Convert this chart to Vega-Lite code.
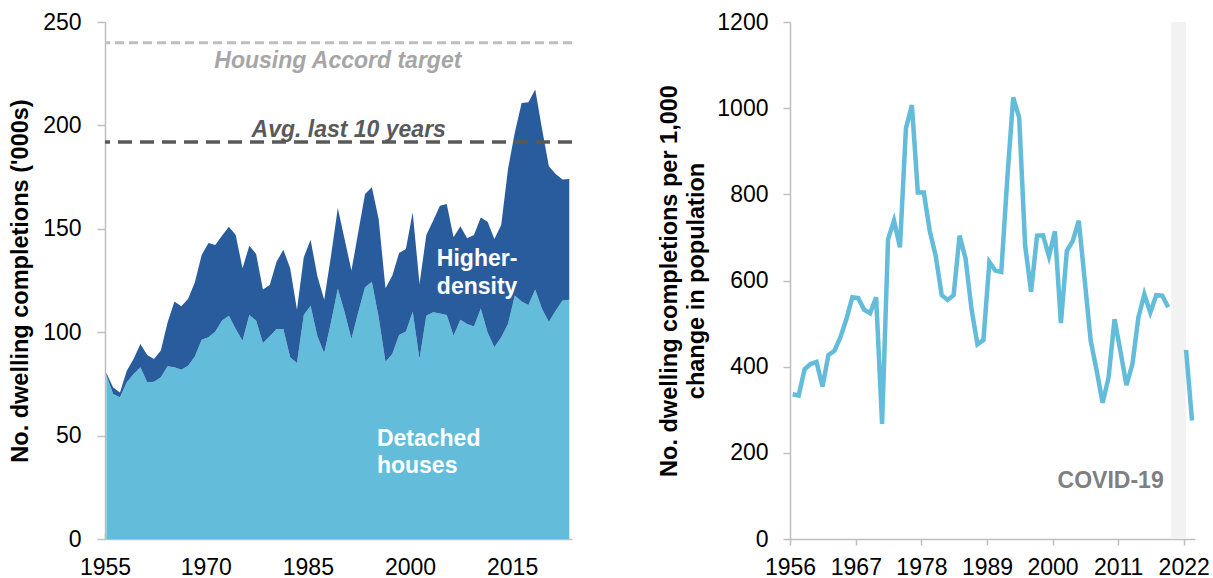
{
  "$schema": "https://vega.github.io/schema/vega-lite/v6.json",
  "padding": {"left": 8, "top": 11, "right": 5, "bottom": 0},
  "autosize": {"type": "pad"},
  "spacing": 83,
  "background": "white",
  "config": {
    "view": {"stroke": null},
    "font": "Liberation Sans",
    "axis": {
      "grid": false,
      "domainColor": "#bfbfbf",
      "domainWidth": 1.5,
      "tickColor": "#bfbfbf",
      "tickWidth": 1.5,
      "labelFont": "Liberation Sans",
      "labelFontSize": 23,
      "labelColor": "#000000",
      "labelOverlap": false,
      "labelFlush": false,
      "titleFont": "Liberation Sans",
      "titleFontSize": 23.5,
      "titleFontWeight": "bold",
      "titleColor": "#000000"
    }
  },
  "datasets": {
    "completions": [
      {"year": 1955, "type": "Detached houses", "value": 79.3}, {"year": 1955, "type": "Higher-density", "value": 1.0},
      {"year": 1956, "type": "Detached houses", "value": 70.1}, {"year": 1956, "type": "Higher-density", "value": 3.2},
      {"year": 1957, "type": "Detached houses", "value": 68.5}, {"year": 1957, "type": "Higher-density", "value": 2.4},
      {"year": 1958, "type": "Detached houses", "value": 75.8}, {"year": 1958, "type": "Higher-density", "value": 5.6},
      {"year": 1959, "type": "Detached houses", "value": 79.8}, {"year": 1959, "type": "Higher-density", "value": 7.2},
      {"year": 1960, "type": "Detached houses", "value": 83.0}, {"year": 1960, "type": "Higher-density", "value": 11.3},
      {"year": 1961, "type": "Detached houses", "value": 75.8}, {"year": 1961, "type": "Higher-density", "value": 13.2},
      {"year": 1962, "type": "Detached houses", "value": 76.1}, {"year": 1962, "type": "Higher-density", "value": 10.9},
      {"year": 1963, "type": "Detached houses", "value": 78.2}, {"year": 1963, "type": "Higher-density", "value": 12.9},
      {"year": 1964, "type": "Detached houses", "value": 83.5}, {"year": 1964, "type": "Higher-density", "value": 21.3},
      {"year": 1965, "type": "Detached houses", "value": 83.0}, {"year": 1965, "type": "Higher-density", "value": 31.8},
      {"year": 1966, "type": "Detached houses", "value": 81.9}, {"year": 1966, "type": "Higher-density", "value": 30.6},
      {"year": 1967, "type": "Detached houses", "value": 83.8}, {"year": 1967, "type": "Higher-density", "value": 32.3},
      {"year": 1968, "type": "Detached houses", "value": 88.3}, {"year": 1968, "type": "Higher-density", "value": 35.8},
      {"year": 1969, "type": "Detached houses", "value": 96.4}, {"year": 1969, "type": "Higher-density", "value": 40.9},
      {"year": 1970, "type": "Detached houses", "value": 97.5}, {"year": 1970, "type": "Higher-density", "value": 45.6},
      {"year": 1971, "type": "Detached houses", "value": 100.3}, {"year": 1971, "type": "Higher-density", "value": 41.9},
      {"year": 1972, "type": "Detached houses", "value": 105.6}, {"year": 1972, "type": "Higher-density", "value": 41.1},
      {"year": 1973, "type": "Detached houses", "value": 108.0}, {"year": 1973, "type": "Higher-density", "value": 43.0},
      {"year": 1974, "type": "Detached houses", "value": 101.5}, {"year": 1974, "type": "Higher-density", "value": 45.5},
      {"year": 1975, "type": "Detached houses", "value": 95.9}, {"year": 1975, "type": "Higher-density", "value": 35.0},
      {"year": 1976, "type": "Detached houses", "value": 108.3}, {"year": 1976, "type": "Higher-density", "value": 33.5},
      {"year": 1977, "type": "Detached houses", "value": 105.6}, {"year": 1977, "type": "Higher-density", "value": 32.2},
      {"year": 1978, "type": "Detached houses", "value": 94.8}, {"year": 1978, "type": "Higher-density", "value": 25.8},
      {"year": 1979, "type": "Detached houses", "value": 98.0}, {"year": 1979, "type": "Higher-density", "value": 24.8},
      {"year": 1980, "type": "Detached houses", "value": 101.5}, {"year": 1980, "type": "Higher-density", "value": 32.6},
      {"year": 1981, "type": "Detached houses", "value": 101.5}, {"year": 1981, "type": "Higher-density", "value": 38.4},
      {"year": 1982, "type": "Detached houses", "value": 87.9}, {"year": 1982, "type": "Higher-density", "value": 43.0},
      {"year": 1983, "type": "Detached houses", "value": 85.1}, {"year": 1983, "type": "Higher-density", "value": 25.8},
      {"year": 1984, "type": "Detached houses", "value": 108.3}, {"year": 1984, "type": "Higher-density", "value": 27.9},
      {"year": 1985, "type": "Detached houses", "value": 112.8}, {"year": 1985, "type": "Higher-density", "value": 31.9},
      {"year": 1986, "type": "Detached houses", "value": 98.0}, {"year": 1986, "type": "Higher-density", "value": 29.0},
      {"year": 1987, "type": "Detached houses", "value": 89.9}, {"year": 1987, "type": "Higher-density", "value": 25.8},
      {"year": 1988, "type": "Detached houses", "value": 104.8}, {"year": 1988, "type": "Higher-density", "value": 32.2},
      {"year": 1989, "type": "Detached houses", "value": 121.0}, {"year": 1989, "type": "Higher-density", "value": 39.0},
      {"year": 1990, "type": "Detached houses", "value": 109.6}, {"year": 1990, "type": "Higher-density", "value": 35.4},
      {"year": 1991, "type": "Detached houses", "value": 96.7}, {"year": 1991, "type": "Higher-density", "value": 33.1},
      {"year": 1992, "type": "Detached houses", "value": 109.6}, {"year": 1992, "type": "Higher-density", "value": 38.7},
      {"year": 1993, "type": "Detached houses", "value": 121.7}, {"year": 1993, "type": "Higher-density", "value": 45.1},
      {"year": 1994, "type": "Detached houses", "value": 124.4}, {"year": 1994, "type": "Higher-density", "value": 45.7},
      {"year": 1995, "type": "Detached houses", "value": 107.2}, {"year": 1995, "type": "Higher-density", "value": 47.5},
      {"year": 1996, "type": "Detached houses", "value": 85.7}, {"year": 1996, "type": "Higher-density", "value": 35.5},
      {"year": 1997, "type": "Detached houses", "value": 89.5}, {"year": 1997, "type": "Higher-density", "value": 37.8},
      {"year": 1998, "type": "Detached houses", "value": 98.6}, {"year": 1998, "type": "Higher-density", "value": 39.7},
      {"year": 1999, "type": "Detached houses", "value": 100.3}, {"year": 1999, "type": "Higher-density", "value": 39.9},
      {"year": 2000, "type": "Detached houses", "value": 109.9}, {"year": 2000, "type": "Higher-density", "value": 48.1},
      {"year": 2001, "type": "Detached houses", "value": 87.0}, {"year": 2001, "type": "Higher-density", "value": 36.3},
      {"year": 2002, "type": "Detached houses", "value": 108.0}, {"year": 2002, "type": "Higher-density", "value": 39.0},
      {"year": 2003, "type": "Detached houses", "value": 109.6}, {"year": 2003, "type": "Higher-density", "value": 44.3},
      {"year": 2004, "type": "Detached houses", "value": 109.1}, {"year": 2004, "type": "Higher-density", "value": 52.1},
      {"year": 2005, "type": "Detached houses", "value": 108.3}, {"year": 2005, "type": "Higher-density", "value": 53.7},
      {"year": 2006, "type": "Detached houses", "value": 98.3}, {"year": 2006, "type": "Higher-density", "value": 47.6},
      {"year": 2007, "type": "Detached houses", "value": 106.0}, {"year": 2007, "type": "Higher-density", "value": 45.2},
      {"year": 2008, "type": "Detached houses", "value": 104.0}, {"year": 2008, "type": "Higher-density", "value": 41.4},
      {"year": 2009, "type": "Detached houses", "value": 102.8}, {"year": 2009, "type": "Higher-density", "value": 44.2},
      {"year": 2010, "type": "Detached houses", "value": 111.5}, {"year": 2010, "type": "Higher-density", "value": 44.0},
      {"year": 2011, "type": "Detached houses", "value": 99.9}, {"year": 2011, "type": "Higher-density", "value": 53.5},
      {"year": 2012, "type": "Detached houses", "value": 92.7}, {"year": 2012, "type": "Higher-density", "value": 52.4},
      {"year": 2013, "type": "Detached houses", "value": 97.5}, {"year": 2013, "type": "Higher-density", "value": 54.3},
      {"year": 2014, "type": "Detached houses", "value": 104.0}, {"year": 2014, "type": "Higher-density", "value": 74.9},
      {"year": 2015, "type": "Detached houses", "value": 117.7}, {"year": 2015, "type": "Higher-density", "value": 78.9},
      {"year": 2016, "type": "Detached houses", "value": 114.8}, {"year": 2016, "type": "Higher-density", "value": 96.0},
      {"year": 2017, "type": "Detached houses", "value": 113.2}, {"year": 2017, "type": "Higher-density", "value": 98.0},
      {"year": 2018, "type": "Detached houses", "value": 120.6}, {"year": 2018, "type": "Higher-density", "value": 96.7},
      {"year": 2019, "type": "Detached houses", "value": 111.2}, {"year": 2019, "type": "Higher-density", "value": 87.1},
      {"year": 2020, "type": "Detached houses", "value": 105.1}, {"year": 2020, "type": "Higher-density", "value": 75.1},
      {"year": 2021, "type": "Detached houses", "value": 110.4}, {"year": 2021, "type": "Higher-density", "value": 66.1},
      {"year": 2022, "type": "Detached houses", "value": 115.3}, {"year": 2022, "type": "Higher-density", "value": 58.5},
      {"year": 2023, "type": "Detached houses", "value": 115.7}, {"year": 2023, "type": "Higher-density", "value": 58.4}
    ],
    "ratio": [
      {"year": 1956, "value": 336, "period": "a"}, {"year": 1957, "value": 333, "period": "a"},
      {"year": 1958, "value": 394, "period": "a"}, {"year": 1959, "value": 406, "period": "a"},
      {"year": 1960, "value": 411, "period": "a"}, {"year": 1961, "value": 354, "period": "a"},
      {"year": 1962, "value": 427, "period": "a"}, {"year": 1963, "value": 437, "period": "a"},
      {"year": 1964, "value": 468, "period": "a"}, {"year": 1965, "value": 510, "period": "a"},
      {"year": 1966, "value": 561, "period": "a"}, {"year": 1967, "value": 559, "period": "a"},
      {"year": 1968, "value": 532, "period": "a"}, {"year": 1969, "value": 524, "period": "a"},
      {"year": 1970, "value": 561, "period": "a"}, {"year": 1971, "value": 267, "period": "a"},
      {"year": 1972, "value": 696, "period": "a"}, {"year": 1973, "value": 739, "period": "a"},
      {"year": 1974, "value": 677, "period": "a"}, {"year": 1975, "value": 953, "period": "a"},
      {"year": 1976, "value": 1007, "period": "a"}, {"year": 1977, "value": 804, "period": "a"},
      {"year": 1978, "value": 804, "period": "a"}, {"year": 1979, "value": 715, "period": "a"},
      {"year": 1980, "value": 657, "period": "a"}, {"year": 1981, "value": 566, "period": "a"},
      {"year": 1982, "value": 555, "period": "a"}, {"year": 1983, "value": 566, "period": "a"},
      {"year": 1984, "value": 704, "period": "a"}, {"year": 1985, "value": 651, "period": "a"},
      {"year": 1986, "value": 534, "period": "a"}, {"year": 1987, "value": 452, "period": "a"},
      {"year": 1988, "value": 462, "period": "a"}, {"year": 1989, "value": 643, "period": "a"},
      {"year": 1990, "value": 623, "period": "a"}, {"year": 1991, "value": 620, "period": "a"},
      {"year": 1992, "value": 835, "period": "a"}, {"year": 1993, "value": 1025, "period": "a"},
      {"year": 1994, "value": 978, "period": "a"}, {"year": 1995, "value": 681, "period": "a"},
      {"year": 1996, "value": 574, "period": "a"}, {"year": 1997, "value": 704, "period": "a"},
      {"year": 1998, "value": 705, "period": "a"}, {"year": 1999, "value": 656, "period": "a"},
      {"year": 2000, "value": 714, "period": "a"}, {"year": 2001, "value": 501, "period": "a"},
      {"year": 2002, "value": 669, "period": "a"}, {"year": 2003, "value": 692, "period": "a"},
      {"year": 2004, "value": 739, "period": "a"}, {"year": 2005, "value": 600, "period": "a"},
      {"year": 2006, "value": 460, "period": "a"}, {"year": 2007, "value": 391, "period": "a"},
      {"year": 2008, "value": 316, "period": "a"}, {"year": 2009, "value": 375, "period": "a"},
      {"year": 2010, "value": 510, "period": "a"}, {"year": 2011, "value": 435, "period": "a"},
      {"year": 2012, "value": 357, "period": "a"}, {"year": 2013, "value": 406, "period": "a"},
      {"year": 2014, "value": 514, "period": "a"}, {"year": 2015, "value": 568, "period": "a"},
      {"year": 2016, "value": 526, "period": "a"}, {"year": 2017, "value": 566, "period": "a"},
      {"year": 2018, "value": 565, "period": "a"}, {"year": 2019, "value": 538, "period": "a"},
      {"year": 2022, "value": 439, "period": "b"}, {"year": 2023, "value": 275, "period": "b"}
    ]
  },
  "hconcat": [
    {
      "width": 467,
      "height": 517,
      "layer": [
        {
          "data": {"name": "completions"},
          "mark": {"type": "area", "interpolate": "linear"},
          "encoding": {
            "x": {
              "field": "year", "type": "quantitative",
              "scale": {"domain": [1954.8, 2023.4], "nice": false, "zero": false},
              "axis": {
                "title": null,
                "values": [1954.8, 1969.6, 1984.6, 1999.6, 2014.6],
                "labelExpr": "format(round(datum.value), 'd')",
                "tickSize": -6,
                "labelPadding": 23
              }
            },
            "y": {
              "field": "value", "type": "quantitative", "stack": "zero",
              "scale": {"domain": [0, 250], "nice": false},
              "axis": {
                "title": "No. dwelling completions ('000s)",
                "values": [0, 50, 100, 150, 200, 250],
                "tickSize": 8,
                "labelPadding": 16,
                "titlePadding": 10
              }
            },
            "color": {
              "field": "type", "type": "nominal",
              "scale": {"domain": ["Detached houses", "Higher-density"], "range": ["#64bcdb", "#285c9c"]},
              "legend": null
            },
            "order": {"field": "type", "type": "nominal", "sort": "ascending"}
          }
        },
        {
          "data": {"values": [{}]},
          "mark": {"type": "rule", "color": "#bfbfbf", "strokeWidth": 3, "strokeDash": [9, 5]},
          "encoding": {"y": {"datum": 240}}
        },
        {
          "data": {"values": [{}]},
          "mark": {"type": "rule", "color": "#595959", "strokeWidth": 3.5, "strokeDash": [14, 8]},
          "encoding": {"y": {"datum": 192}}
        },
        {
          "data": {"values": [{}]},
          "mark": {"type": "text", "text": "Housing Accord target", "fontSize": 23, "fontWeight": "bold", "fontStyle": "italic", "color": "#a6a6a6", "align": "center", "baseline": "alphabetic"},
          "encoding": {"x": {"datum": 1989.0}, "y": {"datum": 227.6}}
        },
        {
          "data": {"values": [{}]},
          "mark": {"type": "text", "text": "Avg. last 10 years", "fontSize": 23, "fontWeight": "bold", "fontStyle": "italic", "color": "#595959", "align": "center", "baseline": "alphabetic"},
          "encoding": {"x": {"datum": 1990.6}, "y": {"datum": 194.4}}
        },
        {
          "data": {"values": [{}]},
          "mark": {"type": "text", "text": ["Higher-", "density"], "fontSize": 23, "fontWeight": "bold", "color": "#ffffff", "align": "left", "baseline": "alphabetic", "lineHeight": 28},
          "encoding": {"x": {"datum": 2003.55}, "y": {"datum": 132.0}}
        },
        {
          "data": {"values": [{}]},
          "mark": {"type": "text", "text": ["Detached", "houses"], "fontSize": 23, "fontWeight": "bold", "color": "#ffffff", "align": "left", "baseline": "alphabetic", "lineHeight": 27},
          "encoding": {"x": {"datum": 1994.74}, "y": {"datum": 45.1}}
        }
      ]
    },
    {
      "width": 405,
      "height": 517,
      "layer": [
        {
          "data": {"values": [{}]},
          "mark": {"type": "rect", "color": "#f2f2f2"},
          "encoding": {"x": {"datum": 2019.5}, "x2": {"datum": 2022}}
        },
        {
          "data": {"name": "ratio"},
          "mark": {"type": "line", "color": "#64bcdb", "strokeWidth": 4.5},
          "encoding": {
            "x": {
              "field": "year", "type": "quantitative",
              "scale": {"domain": [1955.55, 2023.5], "nice": false, "zero": false},
              "axis": {
                "title": null,
                "values": [1955.55, 1966.6, 1977.6, 1988.6, 1999.6, 2010.6, 2021.6],
                "labelExpr": "format(round(datum.value), 'd')",
                "tickSize": 6,
                "labelPadding": 11
              }
            },
            "y": {
              "field": "value", "type": "quantitative",
              "scale": {"domain": [0, 1200], "nice": false},
              "axis": {
                "title": ["No. dwelling completions per 1,000", "change in population"],
                "titleLineHeight": 27,
                "format": "d",
                "values": [0, 200, 400, 600, 800, 1000, 1200],
                "tickSize": 7,
                "labelPadding": 15,
                "titlePadding": 8
              }
            },
            "detail": {"field": "period", "type": "nominal"}
          }
        },
        {
          "data": {"values": [{}]},
          "mark": {"type": "text", "text": "COVID-19", "fontSize": 23, "fontWeight": "bold", "color": "#7f7f7f", "align": "right", "baseline": "alphabetic"},
          "encoding": {"x": {"datum": 2018.25}, "y": {"datum": 117.6}}
        }
      ]
    }
  ]
}
